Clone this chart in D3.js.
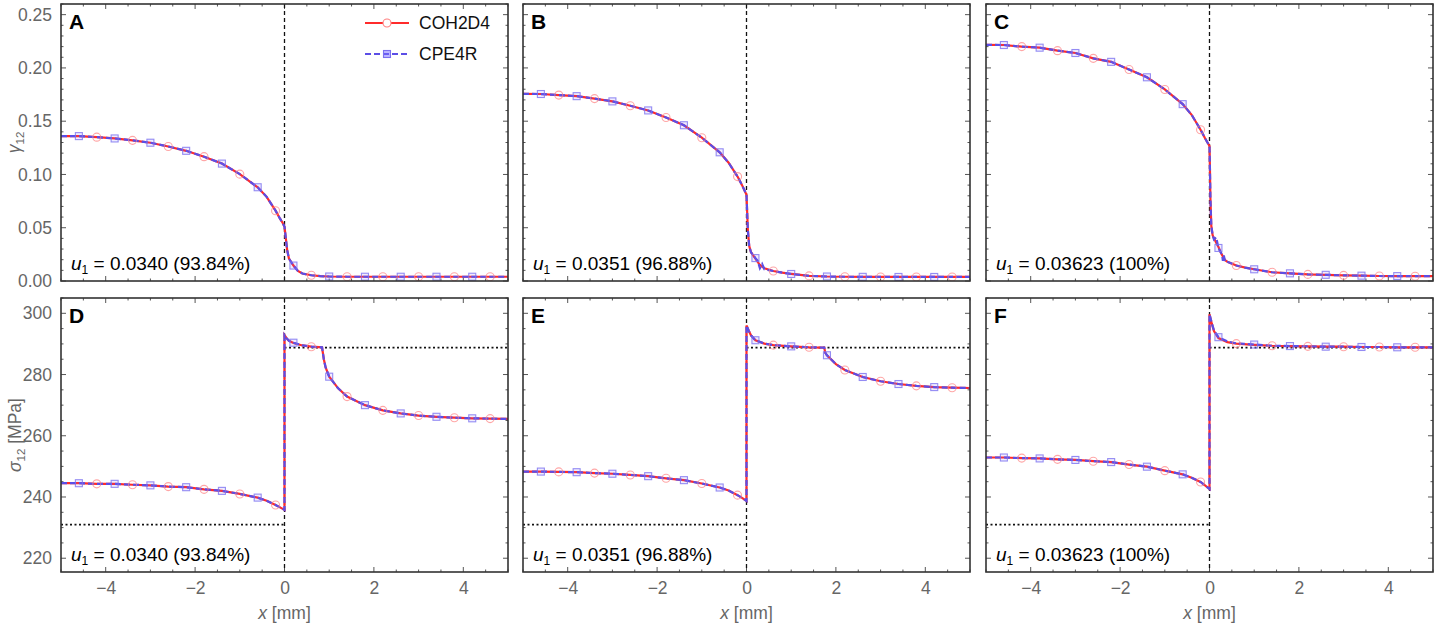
<!DOCTYPE html>
<html>
<head>
<meta charset="utf-8">
<script src="https://cdn.jsdelivr.net/npm/d3@7"></script>
<style>
  body { margin: 0; background: #fff; }
  svg { display: block; font-family: "Liberation Sans", Arial, Helvetica, sans-serif; }
</style>
</head>
<body>
<svg id="chart" width="1439" height="629"></svg>
<script>
// rows: [x (mm), COH2D4, CPE4R]
const gammaA = [
  [-5, .1360, .1360], [-4.6, .1360, .1360], [-4.2, .1350, .1350], [-3.8, .1338, .1338],
  [-3.4, .1320, .1320], [-3.0, .1298, .1298], [-2.6, .1262, .1262], [-2.2, .1222, .1222],
  [-1.8, .1167, .1167], [-1.4, .1102, .1102], [-1.0, .1003, .1003], [-0.6, .0880, .0880],
  [-0.4, .0790, .0790], [-0.2, .0660, .0660], [-0.1, .0585, .0585], [-0.04, .0545, .0545],
  [0, .0510, .0510], [0.03, .0400, .0400], [0.06, .0290, .0290], [0.1, .0210, .0210],
  [0.2, .0145, .0145], [0.3, .0095, .0095], [0.4, .0070, .0070], [0.6, .0054, .0054],
  [0.8, .0046, .0046], [1.0, .0042, .0042], [1.4, .0040, .0040], [1.8, .0040, .0040],
  [2.2, .0040, .0040], [2.6, .0040, .0040], [3.0, .0040, .0040], [3.4, .0040, .0040],
  [3.8, .0040, .0040], [4.2, .0040, .0040], [4.6, .0040, .0040], [5, .0040, .0040]
];
const gammaB = [
  [-5, .1757, .1757], [-4.6, .1755, .1755], [-4.2, .1745, .1745], [-3.8, .1735, .1735],
  [-3.4, .1712, .1712], [-3.0, .1686, .1686], [-2.6, .1645, .1645], [-2.2, .1601, .1601],
  [-1.8, .1535, .1535], [-1.4, .1462, .1462], [-1.0, .1345, .1345], [-0.6, .1208, .1208],
  [-0.4, .1110, .1110], [-0.2, .0980, .0980], [-0.1, .0900, .0900], [0, .0810, .0810],
  [0.01, .0700, .0700], [0.03, .0480, .0480], [0.06, .0330, .0330], [0.1, .0270, .0270],
  [0.2, .0210, .0215], [0.25, .0180, .0190], [0.3, .0150, .0120], [0.35, .0135, .0160],
  [0.4, .0120, .0110], [0.6, .0094, .0094], [0.8, .0078, .0078], [1.0, .0066, .0066],
  [1.4, .0048, .0048], [1.8, .0042, .0042], [2.2, .0040, .0040], [2.6, .0039, .0039],
  [3.0, .0038, .0038], [3.4, .0038, .0038], [3.8, .0038, .0038], [4.2, .0038, .0038],
  [4.6, .0038, .0038], [5, .0038, .0038]
];
const gammaC = [
  [-5, .2217, .2217], [-4.6, .2215, .2215], [-4.2, .2200, .2200], [-3.8, .2190, .2190],
  [-3.4, .2162, .2162], [-3.0, .2140, .2140], [-2.6, .2090, .2090], [-2.2, .2057, .2057],
  [-1.8, .1985, .1985], [-1.4, .1912, .1912], [-1.0, .1798, .1798], [-0.6, .1660, .1660],
  [-0.4, .1560, .1560], [-0.2, .1420, .1420], [-0.1, .1340, .1340], [0, .1267, .1267],
  [0.01, .1050, .1050], [0.02, .0780, .0780], [0.04, .0520, .0520], [0.07, .0430, .0430],
  [0.1, .0400, .0390], [0.15, .0360, .0410], [0.2, .0320, .0310], [0.25, .0270, .0270],
  [0.28, .0245, .0250], [0.3, .0230, .0190], [0.32, .0215, .0240], [0.35, .0195, .0180],
  [0.4, .0180, .0180], [0.6, .0145, .0145], [0.8, .0125, .0125], [1.0, .0110, .0110],
  [1.4, .0082, .0082], [1.8, .0072, .0072], [2.2, .0062, .0062], [2.6, .0058, .0058],
  [3.0, .0053, .0053], [3.4, .0050, .0050], [3.8, .0047, .0047], [4.2, .0046, .0046],
  [4.6, .0045, .0045], [5, .0045, .0045]
];
const sigmaD = [
  [-5, 244.5, 244.5], [-4.6, 244.5, 244.5], [-4.2, 244.3, 244.3], [-3.8, 244.3, 244.3],
  [-3.4, 244.0, 244.0], [-3.0, 243.8, 243.8], [-2.6, 243.4, 243.4], [-2.2, 243.2, 243.2],
  [-1.8, 242.5, 242.5], [-1.4, 242.0, 242.0], [-1.0, 241.0, 241.0], [-0.6, 239.8, 239.8],
  [-0.4, 238.8, 238.8], [-0.2, 237.4, 237.4], [-0.1, 236.6, 236.6], [0, 235.8, 235.8],
  [0, 292.9, 292.9], [0.05, 291.8, 291.8], [0.1, 291.0, 291.0], [0.2, 290.3, 290.4],
  [0.4, 289.5, 289.5], [0.6, 289.1, 289.1], [0.84, 288.9, 288.9], [0.88, 285.0, 285.0],
  [0.92, 282.3, 282.3], [1.0, 279.3, 279.3], [1.2, 275.5, 275.5], [1.4, 272.8, 272.8],
  [1.8, 270.0, 270.0], [2.2, 268.3, 268.3], [2.6, 267.3, 267.3], [3.0, 266.6, 266.6],
  [3.4, 266.2, 266.2], [3.8, 265.9, 265.9], [4.2, 265.7, 265.7], [4.6, 265.6, 265.6],
  [5, 265.5, 265.5]
];
const sigmaE = [
  [-5, 248.3, 248.3], [-4.6, 248.3, 248.3], [-4.2, 248.2, 248.2], [-3.8, 248.1, 248.1],
  [-3.4, 247.8, 247.8], [-3.0, 247.6, 247.6], [-2.6, 247.2, 247.2], [-2.2, 246.8, 246.8],
  [-1.8, 246.1, 246.1], [-1.4, 245.5, 245.5], [-1.0, 244.4, 244.4], [-0.6, 243.1, 243.1],
  [-0.4, 242.1, 242.1], [-0.2, 240.6, 240.6], [-0.1, 239.7, 239.7], [0, 238.7, 238.7],
  [0, 296.0, 296.0], [0.05, 294.3, 294.3], [0.1, 292.8, 292.8], [0.2, 291.2, 291.2],
  [0.4, 290.1, 290.1], [0.6, 289.6, 289.6], [1.0, 289.2, 289.2], [1.4, 288.9, 288.9],
  [1.74, 288.8, 288.8], [1.76, 287.2, 287.2], [1.8, 286.3, 286.3], [2.0, 283.4, 283.4],
  [2.2, 281.5, 281.5], [2.6, 279.2, 279.2], [3.0, 277.8, 277.8], [3.4, 276.9, 276.9],
  [3.8, 276.3, 276.3], [4.2, 275.9, 275.9], [4.6, 275.7, 275.7], [5, 275.6, 275.6]
];
const sigmaF = [
  [-5, 252.9, 252.9], [-4.6, 252.9, 252.9], [-4.2, 252.7, 252.7], [-3.8, 252.6, 252.6],
  [-3.4, 252.3, 252.3], [-3.0, 252.1, 252.1], [-2.6, 251.7, 251.7], [-2.2, 251.4, 251.4],
  [-1.8, 250.6, 250.6], [-1.4, 249.9, 249.9], [-1.0, 248.6, 248.6], [-0.6, 247.4, 247.4],
  [-0.4, 246.3, 246.3], [-0.2, 244.9, 244.9], [-0.1, 243.8, 243.8], [0, 242.6, 242.6],
  [0, 299.7, 299.7], [0.05, 296.7, 296.9], [0.1, 294.2, 294.4], [0.2, 291.9, 292.2],
  [0.4, 290.6, 290.8], [0.6, 290.1, 290.2], [1.0, 289.7, 289.8], [1.4, 289.4, 289.4],
  [1.8, 289.3, 289.3], [2.2, 289.2, 289.2], [2.6, 289.1, 289.1], [3.0, 289.1, 289.1],
  [3.4, 289.0, 289.0], [3.8, 289.0, 289.0], [4.2, 288.9, 288.9], [4.6, 288.9, 288.9],
  [5, 288.9, 288.9]
];

const circleX = [-4.2, -3.4, -2.6, -1.8, -1.0, -0.2, 0.6, 1.4, 2.2, 3.0, 3.8, 4.6];
const squareX = [-4.6, -3.8, -3.0, -2.2, -1.4, -0.6, 0.2, 1.0, 1.8, 2.6, 3.4, 4.2];

const xTicks = [-4, -2, 0, 2, 4];
const gammaTicks = [0, 0.05, 0.10, 0.15, 0.20, 0.25];
const sigmaTicks = [220, 240, 260, 280, 300];
const sigmaRefLow = 231.0;
const sigmaRefHigh = 288.8;

const panelLetters = ["A", "B", "C", "D", "E", "F"];
const u1Values = ["0.0340 (93.84%)", "0.0351 (96.88%)", "0.03623 (100%)"];
const seriesNames = ["COH2D4", "CPE4R"];

// layout
const colLeft = [61, 523, 986];
const plotW = 447;
const rowTop = [4, 298];
const rowBottom = [281, 572];
const red = "#ff2b2b", blue = "#5b4ee6";
const labelGray = "#666";

const svg = d3.select("#chart");

function frameTicks(g, x, y, w, h, yMinor, yMajor) {
  const tk = g.append("g").attr("stroke", "#555").attr("stroke-width", 1);
  const xs = d3.range(-5, 5.001, 0.5);
  xs.forEach(v => {
    const len = Math.abs(v % 2) < 1e-9 ? 5 : 2.5;
    tk.append("line").attr("x1", x(v)).attr("x2", x(v)).attr("y1", h).attr("y2", h - len);
    tk.append("line").attr("x1", x(v)).attr("x2", x(v)).attr("y1", 0).attr("y2", len);
  });
  yMinor.forEach(v => {
    const major = yMajor.some(m => Math.abs(m - v) < 1e-9);
    const len = major ? 5 : 2.5;
    tk.append("line").attr("y1", y(v)).attr("y2", y(v)).attr("x1", 0).attr("x2", len);
    tk.append("line").attr("y1", y(v)).attr("y2", y(v)).attr("x1", w).attr("x2", w - len);
  });
}

function drawPanel(i, rows) {
  const col = i % 3, row = Math.floor(i / 3);
  const left = colLeft[col], top = rowTop[row];
  const h = rowBottom[row] - top;
  const g = svg.append("g").attr("transform", `translate(${left},${top})`);

  const x = d3.scaleLinear().domain([-5, 5]).range([0, plotW]);
  const y = row === 0
    ? d3.scaleLinear().domain([0, 0.26]).range([h, 0])
    : d3.scaleLinear().domain([215.5, 305]).range([h, 0]);

  const clipId = "clip" + i;
  g.append("clipPath").attr("id", clipId)
    .append("rect").attr("width", plotW).attr("height", h);

  const yMinor = row === 0 ? d3.range(0, 0.2601, 0.01) : d3.range(220, 305.01, 5);
  const yMajor = row === 0 ? gammaTicks : sigmaTicks;
  frameTicks(g, x, y, plotW, h, yMinor, yMajor);

  // tick labels via d3 axes
  if (col === 0) {
    const ax = g.append("g")
      .call(d3.axisLeft(y).tickValues(yMajor)
        .tickFormat(row === 0 ? d3.format(".2f") : d3.format("d"))
        .tickSize(0).tickPadding(9));
    ax.select(".domain").remove();
    ax.selectAll("text").attr("fill", labelGray).attr("font-size", 17.5)
      .attr("font-family", "Liberation Sans, Arial, sans-serif");
  }
  if (row === 1) {
    const ax = g.append("g").attr("transform", `translate(0,${h})`)
      .call(d3.axisBottom(x).tickValues(xTicks)
        .tickFormat(d => d < 0 ? "\u2212" + Math.abs(d) : String(d))
        .tickSize(0).tickPadding(10));
    ax.select(".domain").remove();
    ax.selectAll("text").attr("fill", labelGray).attr("font-size", 17.5)
      .attr("font-family", "Liberation Sans, Arial, sans-serif");
  }

  const plot = g.append("g").attr("clip-path", `url(#${clipId})`);

  // reference lines
  plot.append("line")
    .attr("x1", x(0)).attr("x2", x(0)).attr("y1", 0).attr("y2", h)
    .attr("stroke", "#111").attr("stroke-width", 1.3).attr("stroke-dasharray", "4,3");
  if (row === 1) {
    plot.append("line")
      .attr("x1", x(-5)).attr("x2", x(0)).attr("y1", y(sigmaRefLow)).attr("y2", y(sigmaRefLow))
      .attr("stroke", "#111").attr("stroke-width", 1.8).attr("stroke-dasharray", "2,2.5");
    plot.append("line")
      .attr("x1", x(0)).attr("x2", x(5)).attr("y1", y(sigmaRefHigh)).attr("y2", y(sigmaRefHigh))
      .attr("stroke", "#111").attr("stroke-width", 1.8).attr("stroke-dasharray", "2,2.5");
  }

  const lineCoh = d3.line().x(d => x(d[0])).y(d => y(d[1]));
  const lineCpe = d3.line().x(d => x(d[0])).y(d => y(d[2]));

  plot.append("path").attr("d", lineCoh(rows))
    .attr("fill", "none").attr("stroke", red).attr("stroke-width", 2.2);
  plot.append("path").attr("d", lineCpe(rows))
    .attr("fill", "none").attr("stroke", blue).attr("stroke-width", 2.2)
    .attr("stroke-dasharray", "6,3");

  const near = (v, list) => list.some(m => Math.abs(m - v) < 1e-6);
  plot.selectAll("circle.coh")
    .data(rows.filter(d => near(d[0], circleX)))
    .join("circle")
    .attr("cx", d => x(d[0])).attr("cy", d => y(d[1])).attr("r", 4)
    .attr("fill", "none").attr("stroke", "#ff8080").attr("stroke-opacity", 0.7).attr("stroke-width", 1.1);
  plot.selectAll("rect.cpe")
    .data(rows.filter(d => near(d[0], squareX)))
    .join("rect")
    .attr("x", d => x(d[0]) - 3.5).attr("y", d => y(d[2]) - 3.5)
    .attr("width", 7).attr("height", 7)
    .attr("fill", "rgba(120,110,255,0.12)").attr("stroke", "#7a70f0").attr("stroke-opacity", 0.8)
    .attr("stroke-width", 1.1);

  // frame
  g.append("rect").attr("width", plotW).attr("height", h)
    .attr("fill", "none").attr("stroke", "#333").attr("stroke-width", 1.6);

  // panel letter
  g.append("text").attr("x", 8).attr("y", 25)
    .attr("font-size", 21).attr("font-weight", "bold").attr("fill", "#000")
    .text(panelLetters[i]);

  // u1 annotation
  const t = g.append("text").attr("x", 10).attr("y", h - 11)
    .attr("font-size", 19).attr("fill", "#000");
  t.append("tspan").attr("font-style", "italic").text("u");
  t.append("tspan").attr("font-size", 12).attr("dy", 4).text("1");
  t.append("tspan").attr("dy", -4).text(" = " + u1Values[col]);

  // legend only in A
  if (i === 0) {
    const lg = g.append("g");
    [0, 1].forEach(k => {
      const ly = 19 + k * 31;
      const lx0 = 304, lx1 = 348;
      lg.append("line").attr("x1", lx0).attr("x2", lx1).attr("y1", ly).attr("y2", ly)
        .attr("stroke", k === 0 ? red : blue).attr("stroke-width", 2)
        .attr("stroke-dasharray", k === 0 ? null : "6,3");
      if (k === 0) {
        lg.append("circle").attr("cx", (lx0 + lx1) / 2).attr("cy", ly).attr("r", 4)
          .attr("fill", "#fff").attr("stroke", "#ff8080").attr("stroke-width", 1.1);
      } else {
        lg.append("rect").attr("x", (lx0 + lx1) / 2 - 3.5).attr("y", ly - 3.5)
          .attr("width", 7).attr("height", 7)
          .attr("fill", "rgba(120,110,255,0.5)").attr("stroke", "#7a70f0").attr("stroke-width", 1.1);
      }
      lg.append("text").attr("x", 358).attr("y", ly + 6)
        .attr("font-size", 17.5).attr("fill", "#111").text(seriesNames[k]);
    });
  }
}

[gammaA, gammaB, gammaC, sigmaD, sigmaE, sigmaF].forEach((rows, i) => drawPanel(i, rows));

// axis titles
const yTitle1 = svg.append("text")
  .attr("transform", `translate(20,${(rowTop[0] + rowBottom[0]) / 2}) rotate(-90)`)
  .attr("text-anchor", "middle").attr("font-size", 17.5).attr("fill", labelGray);
yTitle1.append("tspan").attr("font-style", "italic").text("\u03b3");
yTitle1.append("tspan").attr("font-size", 11.5).attr("dy", 4).text("12");

const yTitle2 = svg.append("text")
  .attr("transform", `translate(21,${(rowTop[1] + rowBottom[1]) / 2}) rotate(-90)`)
  .attr("text-anchor", "middle").attr("font-size", 17.5).attr("fill", labelGray);
yTitle2.append("tspan").attr("font-style", "italic").text("\u03c3");
yTitle2.append("tspan").attr("font-size", 11.5).attr("dy", 4).text("12");
yTitle2.append("tspan").attr("dy", -4).text(" [MPa]");

colLeft.forEach(l => {
  const xt = svg.append("text")
    .attr("x", l + plotW / 2).attr("y", 619)
    .attr("text-anchor", "middle").attr("font-size", 17.5).attr("fill", labelGray);
  xt.append("tspan").attr("font-style", "italic").text("x");
  xt.append("tspan").text(" [mm]");
});
</script>
</body>
</html>
